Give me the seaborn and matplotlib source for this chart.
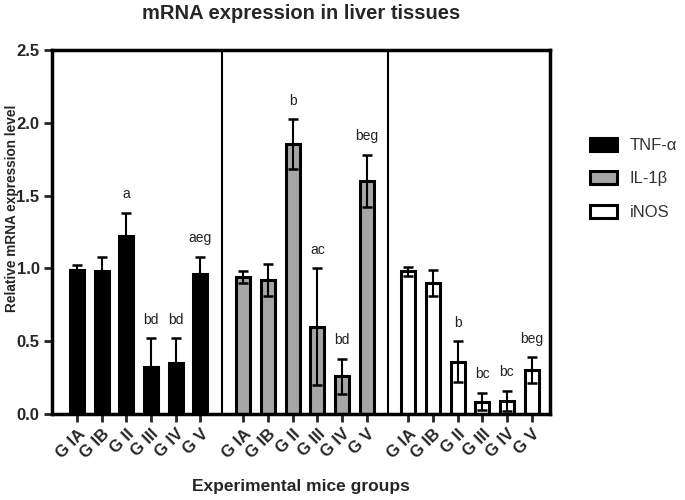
import numpy as np
import pandas as pd
import matplotlib
matplotlib.use("Agg")
import matplotlib.pyplot as plt
import seaborn as sns
from matplotlib.patches import Patch

sns.set_theme(style="white")
plt.rcParams["font.family"] = ["Liberation Sans", "DejaVu Sans"]

# data
groups = ["G IA", "G IB", "G II", "G III", "G IV", "G V"]
genes = ["TNF-α", "IL-1β", "iNOS"]
tnf_mean = [0.99, 0.98, 1.22, 0.32, 0.35, 0.96]
tnf_sd = [0.03, 0.10, 0.16, 0.20, 0.17, 0.12]
il1b_mean = [0.94, 0.92, 1.855, 0.60, 0.26, 1.60]
il1b_sd = [0.04, 0.11, 0.17, 0.40, 0.12, 0.18]
inos_mean = [0.98, 0.90, 0.36, 0.085, 0.09, 0.30]
inos_sd = [0.03, 0.09, 0.14, 0.06, 0.07, 0.09]
tnf_letters = ["", "", "a", "bd", "bd", "aeg"]
il1b_letters = ["", "", "b", "ac", "bd", "beg"]
inos_letters = ["", "", "b", "bc", "bc", "beg"]

colors = ["black", "#a6a6a6", "white"]
offsets = [0, 6.75, 13.45]

rows = []
for g, (gene, means, sds, lets) in enumerate(zip(
        genes,
        [tnf_mean, il1b_mean, inos_mean],
        [tnf_sd, il1b_sd, inos_sd],
        [tnf_letters, il1b_letters, inos_letters])):
    for i, grp in enumerate(groups):
        rows.append({"gene": gene, "group": grp, "pos": offsets[g] + i,
                     "mean": means[i], "sd": sds[i], "letter": lets[i]})
df = pd.DataFrame(rows)

fig = plt.figure(figsize=(6.85, 5), dpi=100)
ax = fig.add_axes([0.076, 0.172, 0.727, 0.728])

sns.barplot(data=df, x="pos", y="mean", hue="gene", hue_order=genes,
            palette=colors, native_scale=True, dodge=False, width=0.57,
            edgecolor="black", linewidth=2.2, legend=False, ax=ax, zorder=2)

ax.errorbar(df["pos"], df["mean"], yerr=df["sd"], fmt="none", ecolor="black",
            elinewidth=1.5, capsize=3.5, capthick=1.8, zorder=3)

for _, r in df.iterrows():
    if r["letter"]:
        ax.text(r["pos"], r["mean"] + r["sd"] + 0.08, r["letter"],
                ha="center", va="bottom", fontsize=10, color="#222222")

# group dividers
for d in [5.875, 12.6]:
    ax.axvline(d, color="black", lw=1.5, zorder=1)

ax.set_xlim(-1.02, 19.2)
ax.set_ylim(0, 2.5)
ax.set_yticks([0, 0.5, 1.0, 1.5, 2.0, 2.5])
ax.set_yticklabels(["0.0", "0.5", "1.0", "1.5", "2.0", "2.5"],
                   fontsize=12, fontweight="bold")
ax.set_xticks(df["pos"])
ax.set_xticklabels(df["group"], rotation=45, ha="right",
                   rotation_mode="anchor", fontsize=12, fontweight="bold")
ax.tick_params(axis="both", direction="out", length=6, width=2,
               bottom=True, left=True, pad=3)
for s in ax.spines.values():
    s.set_linewidth(2.5)
    s.set_color("black")

ax.set_ylabel("Relative mRNA expression level", fontsize=9.8,
              fontweight="bold")
ax.yaxis.set_label_coords(-0.067, 0.566)
ax.set_xlabel("Experimental mice groups", fontsize=12.5,
              fontweight="bold", labelpad=13)
ax.set_title("mRNA expression in liver tissues", fontsize=14.5,
             fontweight="bold", pad=22)

handles = [Patch(facecolor=c, edgecolor="black", linewidth=2.2, label=lab)
           for c, lab in zip(colors, genes)]
ax.legend(handles=handles, loc="upper left", bbox_to_anchor=(1.05, 0.8),
          frameon=False, fontsize=12, handlelength=1.6, handleheight=0.8,
          labelspacing=1.1, handletextpad=0.8, labelcolor="#333333")

fig.savefig("out.png", dpi=100)
